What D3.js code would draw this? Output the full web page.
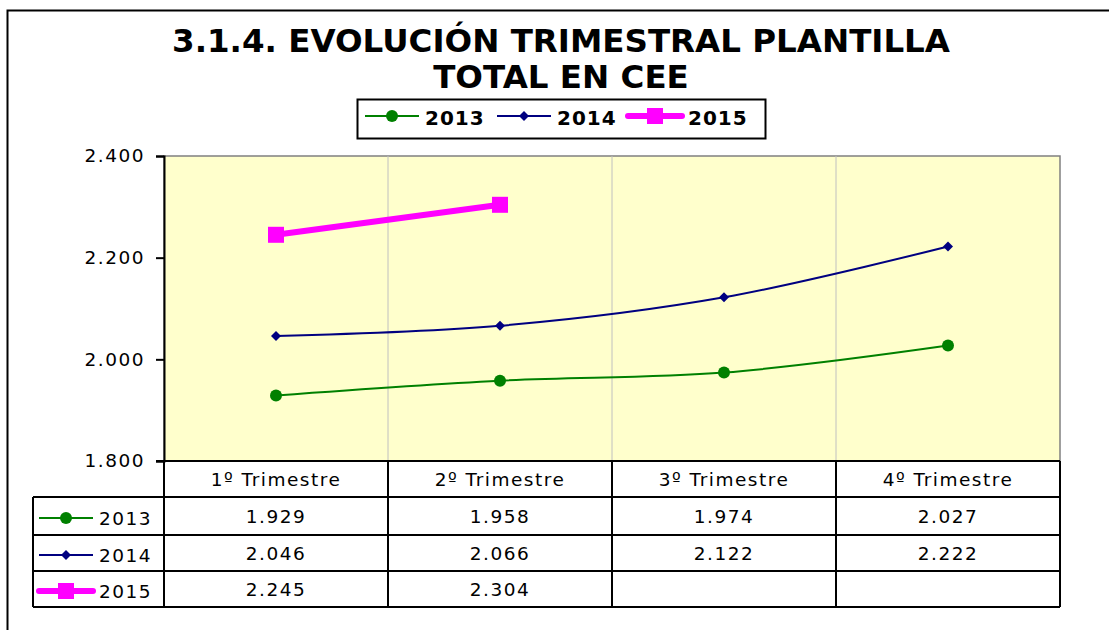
<!DOCTYPE html>
<html>
<head>
<meta charset="utf-8">
<script src="https://cdnjs.cloudflare.com/ajax/libs/d3/7.8.5/d3.min.js"></script>
<style>
  body { margin: 0; background: #fff; }
  text { font-family: "DejaVu Sans", Verdana, sans-serif; }
</style>
</head>
<body>
<div id="chart"></div>
<script>
var categories = ["1º Trimestre", "2º Trimestre", "3º Trimestre", "4º Trimestre"];
var years = ["2013", "2014", "2015"];
var values2013 = [1929, 1958, 1974, 2027];
var values2014 = [2046, 2066, 2122, 2222];
var values2015 = [2245, 2304, null, null];
var yTicks = [1800, 2000, 2200, 2400];
var titleLines = ["3.1.4. EVOLUCIÓN TRIMESTRAL PLANTILLA", "TOTAL EN CEE"];

var es = d3.formatLocale({decimal: ",", thousands: ".", grouping: [3], currency: ["", " €"]});
var fmt = es.format(",d");

var width = 1109, height = 630;
var plotLeft = 164, plotRight = 1060, plotTop = 156, plotBottom = 461;
var rowH = [36, 38, 36, 36];   // header row, then one per series
var tableLeft = 33;
var bodySize = 18.5, bodySpacing = 1.5;

var series = [
  {name: years[0], values: values2013, color: "#008000", width: 2, marker: "circle"},
  {name: years[1], values: values2014, color: "#000080", width: 2, marker: "diamond"},
  {name: years[2], values: values2015, color: "#ff00ff", width: 6, marker: "square"}
];

var svg = d3.select("#chart").append("svg")
  .attr("width", width)
  .attr("height", height);

// outer frame
svg.append("rect")
  .attr("x", 7.5).attr("y", 10.5)
  .attr("width", 1110).attr("height", 640)
  .attr("fill", "#fff").attr("stroke", "#000").attr("stroke-width", 2);

var xscale = d3.scaleBand().domain(categories).range([plotLeft, plotRight]);
var yscale = d3.scaleLinear().domain([1800, 2400]).range([plotBottom, plotTop]);

// plot area
svg.append("rect")
  .attr("x", plotLeft).attr("y", plotTop)
  .attr("width", plotRight - plotLeft).attr("height", plotBottom - plotTop)
  .attr("fill", "#ffffcc")
  .attr("stroke", "#808080").attr("stroke-width", 1.5);

// vertical gridlines
svg.selectAll(".grid")
  .data(categories.slice(1))
  .enter().append("line")
  .attr("x1", function(d) { return xscale(d); })
  .attr("x2", function(d) { return xscale(d); })
  .attr("y1", plotTop).attr("y2", plotBottom)
  .attr("stroke", "#c0c0c0").attr("stroke-width", 1);

// y axis
var yAxis = d3.axisLeft(yscale).tickValues(yTicks).tickSize(8).tickPadding(11).tickFormat(fmt);
var ya = svg.append("g")
  .attr("transform", "translate(" + plotLeft + ",0)")
  .call(yAxis);
ya.select(".domain").attr("stroke", "#000").attr("stroke-width", 2);
ya.selectAll(".tick line").attr("stroke", "#000").attr("stroke-width", 2);
ya.selectAll(".tick text").attr("font-size", bodySize).attr("fill", "#000")
  .attr("letter-spacing", bodySpacing)
  .style("font-family", "'DejaVu Sans', Verdana, sans-serif");

// lines
var line = d3.line()
  .defined(function(d) { return d != null; })
  .x(function(d, i) { return xscale(categories[i]) + xscale.bandwidth() / 2; })
  .y(function(d) { return yscale(d); })
  .curve(d3.curveCatmullRom.alpha(0.5));

function drawMarker(g, type, color, cx, cy) {
  if (type == "circle") {
    g.append("circle").attr("cx", cx).attr("cy", cy).attr("r", 6).attr("fill", color);
  } else if (type == "diamond") {
    g.append("path")
      .attr("d", "M" + cx + "," + (cy - 5) + "L" + (cx + 5) + "," + cy + "L" + cx + "," + (cy + 5) + "L" + (cx - 5) + "," + cy + "Z")
      .attr("fill", color);
  } else {
    g.append("rect").attr("x", cx - 8).attr("y", cy - 8).attr("width", 16).attr("height", 16).attr("fill", color);
  }
}

series.forEach(function(s) {
  svg.append("path")
    .datum(s.values)
    .attr("fill", "none")
    .attr("stroke", s.color)
    .attr("stroke-width", s.width)
    .attr("d", line);
  var g = svg.append("g");
  s.values.forEach(function(v, i) {
    if (v == null) return;
    drawMarker(g, s.marker, s.color, xscale(categories[i]) + xscale.bandwidth() / 2, yscale(v));
  });
});

// bottom axis line
svg.append("line")
  .attr("x1", plotLeft - 8).attr("x2", plotRight)
  .attr("y1", plotBottom).attr("y2", plotBottom)
  .attr("stroke", "#000").attr("stroke-width", 2);

// data table
var rowY = [plotBottom];
rowH.forEach(function(h, i) { rowY.push(rowY[i] + h); });
var tbl = svg.append("g");

rowY.forEach(function(y, i) {
  if (i == 0) return;
  tbl.append("line")
    .attr("x1", tableLeft).attr("x2", plotRight)
    .attr("y1", y).attr("y2", y)
    .attr("stroke", "#000").attr("stroke-width", 2);
});
tbl.append("line")
  .attr("x1", tableLeft).attr("x2", tableLeft)
  .attr("y1", rowY[1]).attr("y2", rowY[4])
  .attr("stroke", "#000").attr("stroke-width", 2);
categories.forEach(function(c) {
  tbl.append("line")
    .attr("x1", xscale(c)).attr("x2", xscale(c))
    .attr("y1", plotBottom).attr("y2", rowY[4])
    .attr("stroke", "#000").attr("stroke-width", 2);
});
tbl.append("line")
  .attr("x1", plotRight).attr("x2", plotRight)
  .attr("y1", plotBottom).attr("y2", rowY[4])
  .attr("stroke", "#000").attr("stroke-width", 2);

tbl.selectAll(".hdr")
  .data(categories)
  .enter().append("text")
  .attr("x", function(d) { return xscale(d) + xscale.bandwidth() / 2; })
  .attr("y", (rowY[0] + rowY[1]) / 2)
  .attr("dy", "0.36em")
  .attr("text-anchor", "middle")
  .attr("font-size", bodySize)
  .attr("letter-spacing", bodySpacing)
  .text(function(d) { return d; });

series.forEach(function(s, r) {
  var cy = (rowY[r + 1] + rowY[r + 2]) / 2;
  s.values.forEach(function(v, i) {
    if (v == null) return;
    tbl.append("text")
      .attr("x", xscale(categories[i]) + xscale.bandwidth() / 2)
      .attr("y", cy)
      .attr("dy", "0.36em")
      .attr("text-anchor", "middle")
      .attr("font-size", bodySize)
      .attr("letter-spacing", bodySpacing)
      .text(fmt(v));
  });
  // legend key in table
  tbl.append("line")
    .attr("x1", 39).attr("x2", 93)
    .attr("y1", cy + 2).attr("y2", cy + 2)
    .attr("stroke", s.color).attr("stroke-width", s.width)
    .attr("stroke-linecap", s.width > 3 ? "round" : "butt");
  drawMarker(tbl, s.marker, s.color, 66, cy + 2);
  tbl.append("text")
    .attr("x", 99).attr("y", cy + 2)
    .attr("dy", "0.36em")
    .attr("font-size", bodySize)
    .attr("letter-spacing", bodySpacing)
    .text(s.name);
});

// title
svg.selectAll(".title")
  .data(titleLines)
  .enter().append("text")
  .attr("x", 561)
  .attr("y", function(d, i) { return 52 + i * 36; })
  .attr("text-anchor", "middle")
  .attr("font-size", 32.5)
  .attr("font-weight", "bold")
  .text(function(d) { return d; });

// legend
var lg = svg.append("g");
lg.append("rect")
  .attr("x", 357.5).attr("y", 99.5)
  .attr("width", 408).attr("height", 39)
  .attr("fill", "#fff").attr("stroke", "#000").attr("stroke-width", 2);
var lgX = [365, 497, 628];
series.forEach(function(s, i) {
  var x0 = lgX[i], cy = 116;
  lg.append("line")
    .attr("x1", x0).attr("x2", x0 + 54)
    .attr("y1", cy).attr("y2", cy)
    .attr("stroke", s.color).attr("stroke-width", s.width)
    .attr("stroke-linecap", s.width > 3 ? "round" : "butt");
  drawMarker(lg, s.marker, s.color, x0 + 27, cy);
  lg.append("text")
    .attr("x", x0 + 60).attr("y", cy + 2)
    .attr("dy", "0.36em")
    .attr("font-size", 20)
    .attr("font-weight", "bold")
    .attr("letter-spacing", 1)
    .text(s.name);
});
</script>
</body>
</html>
